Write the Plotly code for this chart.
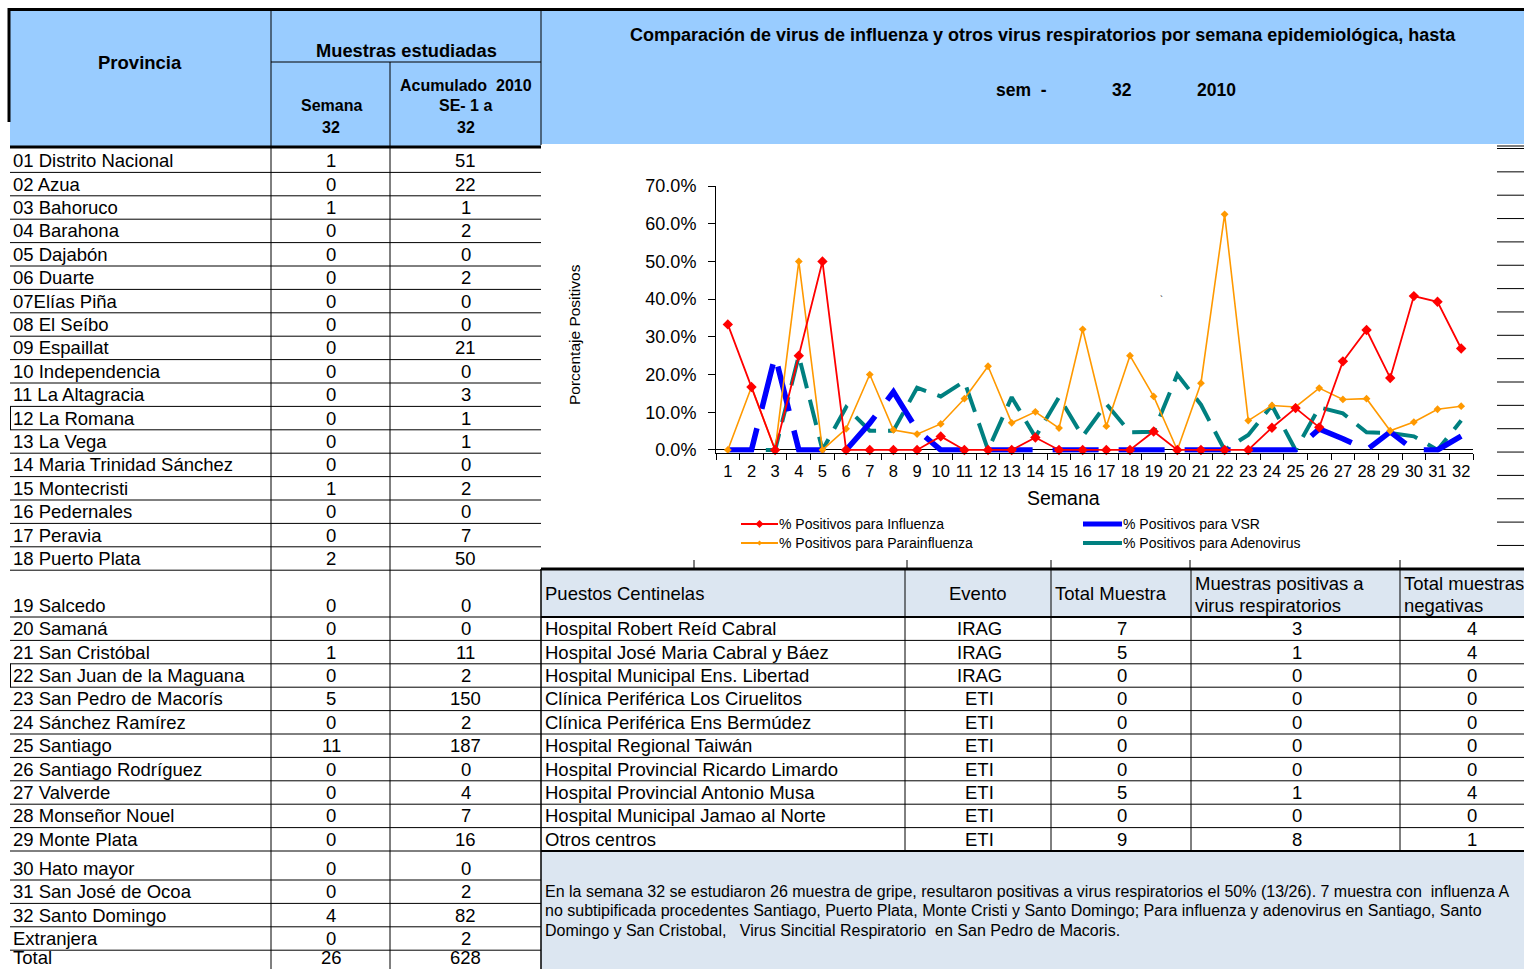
import plotly.graph_objects as go

W, H = 1524, 969
FONT = "Liberation Sans, Arial, sans-serif"


def px(x):
    return x / W


def py(y):
    return 1 - y / H


# ---------------- data ----------------
semanas = ['1', '2', '3', '4', '5', '6', '7', '8', '9', '10', '11', '12', '13', '14', '15', '16',
           '17', '18', '19', '20', '21', '22', '23', '24', '25', '26', '27', '28', '29', '30', '31', '32']
influenza = [33.3, 16.7, 0, 25.0, 50.0, 0, 0, 0, 0, 3.6, 0, 0, 0, 3.3, 0, 0,
             0, 0, 4.9, 0, 0, 0, 0, 5.9, 11.1, 6.0, 23.5, 31.8, 19.1, 40.8, 39.3, 26.9]
parainfluenza = [0, 16.7, 0, 50.0, 0, 5.6, 20.0, 5.3, 4.2, 6.9, 13.6, 22.2, 7.2, 10.1, 5.8, 32.0,
                 6.3, 25.0, 14.2, 0, 17.7, 62.5, 7.8, 11.8, 11.4, 16.4, 13.4, 13.6, 5.1, 7.4, 10.8, 11.6]
vsr = [0, 0, 25.0, 0, 0, 0, 7.1, 15.4, 5.3, 0, 0, 0, 0, 0, 0, 0,
       0, 0, 0, 0, 0, 0, 0, 0, 0, 5.6, 3.0, 0, 4.8, 0, 0, 3.7]
adenovirus = [0, 0, 0, 25.0, 0, 11.3, 5.1, 5.1, 16.5, 14.2, 18.2, 0, 14.0, 3.4, 14.0, 3.6,
              12.2, 4.7, 4.8, 20.0, 12.0, 0, 4.0, 11.8, 0, 11.3, 9.7, 4.7, 4.5, 3.6, 0, 7.8]
y_ticks = [0, 10, 20, 30, 40, 50, 60, 70]
y_tick_labels = ['0.0%', '10.0%', '20.0%', '30.0%', '40.0%', '50.0%', '60.0%', '70.0%']

provincias = ['01 Distrito Nacional', '02 Azua', '03 Bahoruco', '04 Barahona', '05 Dajabón',
              '06 Duarte', '07Elías Piña', '08 El Seíbo', '09 Espaillat', '10 Independencia',
              '11 La Altagracia', '12 La Romana', '13 La Vega', '14 Maria Trinidad Sánchez',
              '15 Montecristi', '16 Pedernales', '17 Peravia', '18 Puerto Plata', '19 Salcedo',
              '20 Samaná', '21 San Cristóbal', '22 San Juan de la Maguana', '23 San Pedro de Macorís',
              '24 Sánchez Ramírez', '25 Santiago', '26 Santiago Rodríguez', '27 Valverde',
              '28 Monseñor Nouel', '29 Monte Plata', '30 Hato mayor', '31 San José de Ocoa',
              '32 Santo Domingo', 'Extranjera', 'Total']
semana32 = [1, 0, 1, 0, 0, 0, 0, 0, 0, 0, 0, 0, 0, 0, 1, 0, 0, 2, 0, 0, 1, 0, 5, 0, 11, 0, 0, 0, 0,
            0, 0, 4, 0, 26]
acumulado = [51, 22, 1, 2, 0, 2, 0, 0, 21, 0, 3, 1, 1, 0, 2, 0, 7, 50, 0, 0, 11, 2, 150, 2, 187, 0,
             4, 7, 16, 0, 2, 82, 2, 628]

puestos = ['Hospital Robert Reíd Cabral', 'Hospital José Maria Cabral y Báez',
           'Hospital Municipal Ens. Libertad', 'Clínica Periférica Los Ciruelitos',
           'Clínica Periférica Ens Bermúdez', 'Hospital Regional Taiwán',
           'Hospital Provincial Ricardo Limardo', 'Hospital Provincial Antonio Musa',
           'Hospital Municipal Jamao al Norte', 'Otros centros']
eventos = ['IRAG', 'IRAG', 'IRAG', 'ETI', 'ETI', 'ETI', 'ETI', 'ETI', 'ETI', 'ETI']
total_muestra = [7, 5, 0, 0, 0, 0, 0, 5, 0, 9]
positivas = [3, 1, 0, 0, 0, 0, 0, 1, 0, 8]
negativas = [4, 4, 0, 0, 0, 0, 0, 4, 0, 1]

nota = ["En la semana 32 se estudiaron 26 muestra de gripe, resultaron positivas a virus respiratorios el 50% (13/26). 7 muestra con  influenza A",
        "no subtipificada procedentes Santiago, Puerto Plata, Monte Cristi y Santo Domingo; Para influenza y adenovirus en Santiago, Santo",
        "Domingo y San Cristobal,   Virus Sincitial Respiratorio  en San Pedro de Macoris."]

# ---------------- colors ----------------
BLUE_HDR = '#99CCFF'
GRAY_HDR = '#DCE6F1'
C_INF, C_PARA, C_VSR, C_ADE = '#FF0000', '#FF9900', '#0000FF', '#008080'

fig = go.Figure()

fig.add_trace(go.Scatter(x=semanas, y=adenovirus, mode='lines', name='% Positivos para Adenovirus',
                         line=dict(color=C_ADE, width=4, dash='26px,12px')))
fig.add_trace(go.Scatter(x=semanas, y=vsr, mode='lines', name='% Positivos para VSR',
                         line=dict(color=C_VSR, width=5.5, dash='46px,20px')))
fig.add_trace(go.Scatter(x=semanas, y=parainfluenza, mode='lines+markers',
                         name='% Positivos para Parainfluenza', cliponaxis=False,
                         line=dict(color=C_PARA, width=1.6),
                         marker=dict(symbol='diamond', size=6, color=C_PARA)))
fig.add_trace(go.Scatter(x=semanas, y=influenza, mode='lines+markers',
                         name='% Positivos para Influenza', cliponaxis=False,
                         line=dict(color=C_INF, width=1.8),
                         marker=dict(symbol='diamond', size=8, color=C_INF)))

shapes = []
annots = []


def rect(x0, y0, x1, y1, fill):
    shapes.append(dict(type='rect', xref='paper', yref='paper', x0=px(x0), x1=px(x1),
                       y0=py(y1), y1=py(y0), fillcolor=fill, line=dict(width=0), layer='below'))


def hline(x0, x1, y, w=1, color='black'):
    shapes.append(dict(type='line', xref='paper', yref='paper', x0=px(x0), x1=px(x1),
                       y0=py(y), y1=py(y), line=dict(color=color, width=w)))


def vline(x, y0, y1, w=1, color='black'):
    shapes.append(dict(type='line', xref='paper', yref='paper', x0=px(x), x1=px(x),
                       y0=py(y0), y1=py(y1), line=dict(color=color, width=w)))


def text(x, y, s, size=18, anchor='left', bold=False, angle=0, color='black'):
    if bold:
        s = '<b>' + s + '</b>'
    annots.append(dict(x=px(x), y=py(y), xref='paper', yref='paper', text=s, showarrow=False,
                       xanchor=anchor, yanchor='middle', textangle=angle,
                       font=dict(family=FONT, size=size, color=color)))


# ---------------- header backgrounds ----------------
rect(10, 10, 541, 146, BLUE_HDR)
rect(541, 10, 1524, 144, BLUE_HDR)
rect(541, 569, 1524, 617, GRAY_HDR)
rect(541, 852, 1524, 969, GRAY_HDR)

# top border and left header border
hline(8, 1524, 9.5, 3)
vline(9, 8, 122, 3)
hline(10, 541, 147, 3)
vline(271, 10, 969)
vline(390, 62, 969)
hline(271, 541, 62)
vline(541, 10, 145)

# left header text
text(140, 62, 'Provincia', 18.5, 'center', True)
text(406, 50, 'Muestras estudiadas', 18.3, 'center', True)
text(331, 106, 'Semana', 16, 'center', True)
text(331, 127, '32', 16, 'center', True)
text(466, 86, 'Acumulado  2010', 16, 'center', True)
text(466, 106, 'SE- 1 a', 16, 'center', True)
text(466, 127, '32', 16, 'center', True)

# right header text
text(1043, 35, 'Comparación de virus de influenza y otros virus respiratorios por semana epidemiológica, hasta',
     18, 'center', True)
text(1021, 90, 'sem  -', 17.5, 'center', True)
text(1122, 90, '32', 17.5, 'center', True)
text(1216, 90, '2010', 17.5, 'center', True)

# ---------------- left table ----------------
row_h = [23.4] * 18 + [46.8] + [23.4] * 10 + [29] + [23.4] * 4
top = 149
for i, name in enumerate(provincias):
    bottom = top + row_h[i]
    cy = min(bottom - 11.7, 957)
    text(11, cy, name, 18.5, 'left')
    text(331, cy, str(semana32[i]), 18.5, 'center')
    text(466, cy, str(acumulado[i]), 18.5, 'center')
    if i < len(provincias) - 1:
        hline(10, 541, bottom)
    if name.startswith('12 ') or name.startswith('22 '):
        vline(10.5, top, bottom)
    top = bottom
vline(541, 569, 969, 1.5)

# hidden column lines at far right
hline(1497, 1524, 146, 1)
for k in range(18):
    hline(1497, 1524, 148.5 + k * 23.35, 1)

# ---------------- sentinel table ----------------
for xx in [694, 907, 1051, 1190, 1400]:
    vline(xx, 560, 569, 1)
hline(541, 1524, 569, 3)
hline(541, 1524, 617, 2)
for xx in [905, 1051, 1191, 1400]:
    vline(xx, 569, 851)
text(543, 593, 'Puestos Centinelas', 18.5)
text(978, 593, 'Evento', 18.5, 'center')
text(1053, 593, 'Total Muestra', 18.5)
text(1193, 583, 'Muestras positivas a', 18.5)
text(1193, 605, 'virus respiratorios', 18.5)
text(1402, 583, 'Total muestras', 18.5)
text(1402, 605, 'negativas', 18.5)
rtop = 617
for i, p in enumerate(puestos):
    rb = rtop + 23.4
    cy = rb - 11.7
    text(543, cy, p, 18.5)
    text(979, cy, eventos[i], 18.5, 'center')
    text(1122, cy, str(total_muestra[i]), 18.5, 'center')
    text(1297, cy, str(positivas[i]), 18.5, 'center')
    text(1472, cy, str(negativas[i]), 18.5, 'center')
    if i < len(puestos) - 1:
        hline(541, 1524, rb)
    rtop = rb
hline(541, 1524, 851, 2)

for j, line in enumerate(nota):
    text(543, 891 + j * 19.5, line, 16)

# ---------------- chart texts & legend ----------------
text(574, 335, 'Porcentaje Positivos', 15.5, 'center', angle=-90)
text(1063, 498, 'Semana', 19.5, 'center')
text(1161, 299, '`', 9, 'center')


def diamond(cx, cy, s, color):
    path = (f"M {px(cx)},{py(cy - s)} L {px(cx + s)},{py(cy)} "
            f"L {px(cx)},{py(cy + s)} L {px(cx - s)},{py(cy)} Z")
    shapes.append(dict(type='path', xref='paper', yref='paper', path=path,
                       fillcolor=color, line=dict(color=color, width=0)))


leg = [(741, 778, 524, C_INF, 2, 4, '% Positivos para Influenza', 777),
       (1083, 1122, 524, C_VSR, 5, 0, '% Positivos para VSR', 1121),
       (741, 778, 543, C_PARA, 2, 2.5, '% Positivos para Parainfluenza', 777),
       (1083, 1122, 543, C_ADE, 4, 0, '% Positivos para Adenovirus', 1121)]
for x0, x1, yy, col, w, ds, label, tx in leg:
    hline(x0, x1, yy, w, col)
    if ds:
        diamond((x0 + x1) / 2, yy, ds, col)
    text(tx, yy, label, 14)

axis_font = dict(family=FONT, size=16.5, color='black')
fig.update_layout(
    width=W, height=H, autosize=False, margin=dict(l=0, r=0, t=0, b=0, pad=0),
    paper_bgcolor='white', plot_bgcolor='rgba(0,0,0,0)', showlegend=False,
    xaxis=dict(domain=[px(716), px(1473)], type='category', range=[-0.5, 31.5],
               tickson='boundaries', ticks='outside', ticklen=6, tickcolor='black',
               showline=True, linecolor='black', linewidth=1, showgrid=False, zeroline=False,
               tickfont=axis_font, tickangle=0, ticklabelstandoff=4, fixedrange=True,
               automargin=False),
    yaxis=dict(domain=[py(452.6), py(186)], range=[-0.7, 70],
               tickvals=y_ticks, ticktext=y_tick_labels,
               ticks='outside', ticklen=7, tickcolor='black', showline=True, linecolor='black',
               linewidth=1, showgrid=False, zeroline=True, zerolinecolor='black', zerolinewidth=1,
               tickfont=dict(family=FONT, size=18, color='black'), ticklabelstandoff=8,
               fixedrange=True, automargin=False),
    shapes=shapes, annotations=annots,
)

post = ("document.documentElement.style.margin='0';document.documentElement.style.overflow='hidden';"
        "document.body.style.margin='0';document.body.style.padding='0';"
        "document.body.style.overflow='hidden';"
        "var gd=document.getElementById('{plot_id}');gd.style.position='fixed';"
        "gd.style.left='0px';gd.style.top='0px';")
fig.write_html("out.html", post_script=post,
               config={'displayModeBar': False, 'responsive': False})
